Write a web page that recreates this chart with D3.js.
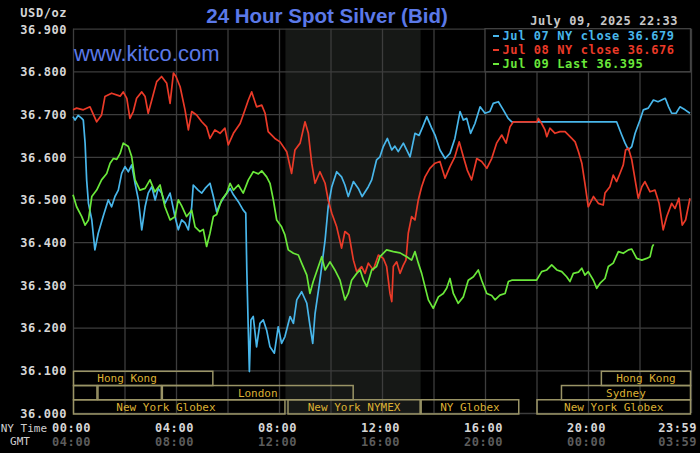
<!DOCTYPE html>
<html><head><meta charset="utf-8">
<script src="https://cdn.jsdelivr.net/npm/d3@7"></script>
<style>
html,body{margin:0;padding:0;background:#000;}
svg{display:block;}
.mono{font-family:"DejaVu Sans Mono",monospace;}
</style></head>
<body><div id="chart"></div>
<script>
// ---------- data ----------
const yTicks = [36.0,36.1,36.2,36.3,36.4,36.5,36.6,36.7,36.8,36.9];
const xGridHours = [0,2,4,6,8,10,12,14,16,18,20,22,24];
const nyTimeLabels = [[0,"00:00"],[4,"04:00"],[8,"08:00"],[12,"12:00"],[16,"16:00"],[20,"20:00"],[23.983,"23:59"]];
const gmtTimeLabels = [[0,"04:00"],[4,"08:00"],[8,"12:00"],[12,"16:00"],[16,"20:00"],[20,"00:00"],[23.983,"03:59"]];
const shadeHours = [8.25, 13.5];

// [hour, price]
const jul07 = [[0,36.694],[0.08,36.686],[0.2,36.697],[0.34,36.690],[0.40,36.686],[0.47,36.632],[0.53,36.546],[0.60,36.491],[0.73,36.452],[0.85,36.382],[0.98,36.421],[1.17,36.460],[1.37,36.499],[1.50,36.483],[1.63,36.507],[1.76,36.522],[1.89,36.561],[2.02,36.577],[2.15,36.565],[2.28,36.581],[2.41,36.538],[2.54,36.499],[2.67,36.429],[2.80,36.483],[2.92,36.515],[3.06,36.530],[3.19,36.499],[3.31,36.526],[3.44,36.515],[3.57,36.491],[3.77,36.515],[3.96,36.460],[4.09,36.429],[4.22,36.452],[4.35,36.445],[4.48,36.429],[4.61,36.483],[4.67,36.534],[4.86,36.522],[5.00,36.515],[5.13,36.526],[5.32,36.538],[5.45,36.507],[5.58,36.471],[5.71,36.490],[5.84,36.503],[6.10,36.526],[6.23,36.511],[6.42,36.495],[6.61,36.475],[6.71,36.468],[6.75,36.335],[6.81,36.187],[6.85,36.097],[6.91,36.218],[7.00,36.226],[7.13,36.155],[7.26,36.210],[7.39,36.218],[7.52,36.194],[7.65,36.155],[7.82,36.140],[7.97,36.202],[8.10,36.163],[8.23,36.179],[8.43,36.226],[8.56,36.210],[8.69,36.265],[8.88,36.284],[9.08,36.257],[9.20,36.206],[9.31,36.163],[9.40,36.233],[9.59,36.311],[9.79,36.405],[9.91,36.483],[10.05,36.530],[10.24,36.565],[10.43,36.553],[10.56,36.534],[10.69,36.507],[10.89,36.542],[11.08,36.526],[11.23,36.507],[11.47,36.530],[11.60,36.546],[11.79,36.593],[11.92,36.600],[12.05,36.624],[12.21,36.643],[12.38,36.616],[12.50,36.625],[12.63,36.612],[12.83,36.632],[13.09,36.600],[13.28,36.655],[13.44,36.650],[13.58,36.670],[13.74,36.694],[13.93,36.667],[14.06,36.651],[14.25,36.616],[14.45,36.596],[14.64,36.608],[14.83,36.643],[15.03,36.706],[15.16,36.686],[15.29,36.690],[15.44,36.655],[15.61,36.678],[15.81,36.717],[16.00,36.702],[16.19,36.706],[16.32,36.725],[16.52,36.729],[16.71,36.710],[16.90,36.690],[17.04,36.682],[21.11,36.682],[21.31,36.651],[21.44,36.632],[21.57,36.616],[21.70,36.624],[21.83,36.655],[22.02,36.686],[22.15,36.710],[22.34,36.714],[22.54,36.733],[22.72,36.729],[23.00,36.737],[23.13,36.717],[23.25,36.702],[23.42,36.702],[23.57,36.717],[23.77,36.710],[23.96,36.702]];

const jul08 = [[0,36.710],[0.14,36.714],[0.40,36.710],[0.66,36.717],[0.92,36.682],[1.11,36.698],[1.24,36.741],[1.50,36.749],[1.83,36.742],[1.95,36.752],[2.09,36.737],[2.21,36.690],[2.34,36.706],[2.47,36.737],[2.67,36.752],[2.80,36.741],[2.92,36.702],[3.06,36.733],[3.25,36.776],[3.44,36.788],[3.64,36.772],[3.77,36.725],[3.90,36.796],[4.00,36.788],[4.16,36.764],[4.35,36.710],[4.48,36.663],[4.61,36.706],[4.80,36.698],[5.00,36.682],[5.19,36.670],[5.32,36.643],[5.51,36.663],[5.71,36.655],[5.90,36.667],[6.03,36.628],[6.23,36.655],[6.49,36.678],[6.68,36.710],[6.81,36.733],[6.94,36.752],[7.13,36.717],[7.33,36.721],[7.46,36.702],[7.58,36.659],[7.84,36.643],[8.04,36.635],[8.30,36.612],[8.49,36.561],[8.62,36.616],[8.82,36.632],[9.01,36.682],[9.14,36.655],[9.27,36.585],[9.40,36.538],[9.59,36.565],[9.79,36.538],[9.91,36.499],[10.05,36.468],[10.24,36.436],[10.43,36.386],[10.56,36.425],[10.72,36.417],[10.89,36.358],[11.02,36.331],[11.21,36.343],[11.34,36.327],[11.47,36.351],[11.66,36.335],[11.86,36.370],[12.05,36.362],[12.18,36.343],[12.31,36.280],[12.38,36.261],[12.44,36.343],[12.57,36.354],[12.70,36.327],[12.82,36.345],[12.93,36.358],[13.02,36.421],[13.15,36.460],[13.28,36.452],[13.41,36.499],[13.54,36.530],[13.67,36.553],[13.86,36.573],[14.06,36.585],[14.25,36.589],[14.45,36.550],[14.64,36.577],[14.83,36.600],[15.00,36.635],[15.16,36.600],[15.31,36.569],[15.48,36.546],[15.68,36.596],[15.87,36.589],[16.07,36.573],[16.26,36.596],[16.45,36.632],[16.65,36.651],[16.82,36.632],[16.97,36.670],[17.10,36.682],[18.02,36.682],[18.07,36.690],[18.20,36.678],[18.33,36.663],[18.40,36.647],[18.52,36.667],[18.72,36.655],[18.91,36.659],[19.11,36.659],[19.37,36.643],[19.50,36.635],[19.63,36.612],[19.76,36.585],[19.88,36.538],[20.01,36.483],[20.21,36.507],[20.40,36.491],[20.59,36.487],[20.66,36.515],[20.85,36.530],[20.98,36.557],[21.11,36.542],[21.24,36.561],[21.37,36.581],[21.46,36.616],[21.57,36.620],[21.70,36.593],[21.83,36.546],[21.95,36.503],[22.09,36.530],[22.21,36.542],[22.41,36.518],[22.60,36.522],[22.76,36.491],[22.92,36.429],[23.06,36.460],[23.25,36.491],[23.38,36.479],[23.53,36.503],[23.66,36.440],[23.79,36.452],[23.96,36.503]];

const jul09 = [[0,36.511],[0.14,36.483],[0.34,36.460],[0.47,36.440],[0.60,36.452],[0.73,36.507],[0.92,36.522],[1.11,36.546],[1.31,36.561],[1.44,36.585],[1.57,36.596],[1.70,36.594],[1.83,36.608],[1.95,36.632],[2.15,36.624],[2.28,36.600],[2.41,36.546],[2.60,36.522],[2.80,36.526],[2.99,36.546],[3.18,36.518],[3.38,36.534],[3.57,36.483],[3.77,36.452],[3.96,36.460],[4.09,36.499],[4.22,36.485],[4.41,36.460],[4.61,36.475],[4.74,36.436],[4.93,36.425],[5.06,36.430],[5.19,36.390],[5.32,36.421],[5.45,36.460],[5.58,36.465],[5.77,36.499],[5.97,36.515],[6.10,36.538],[6.23,36.522],[6.42,36.534],[6.61,36.515],[6.81,36.546],[7.00,36.565],[7.20,36.560],[7.33,36.567],[7.52,36.553],[7.65,36.538],[7.78,36.499],[7.91,36.452],[8.10,36.436],[8.23,36.417],[8.36,36.382],[8.56,36.374],[8.75,36.370],[8.88,36.351],[9.08,36.323],[9.20,36.280],[9.33,36.308],[9.46,36.331],[9.66,36.366],[9.79,36.335],[9.98,36.354],[10.17,36.335],[10.37,36.311],[10.56,36.265],[10.69,36.280],[10.82,36.311],[11.02,36.327],[11.15,36.335],[11.28,36.311],[11.41,36.296],[11.60,36.335],[11.79,36.343],[11.92,36.366],[12.18,36.382],[12.44,36.378],[12.70,36.375],[12.96,36.366],[13.15,36.358],[13.28,36.378],[13.41,36.351],[13.54,36.327],[13.67,36.296],[13.80,36.265],[13.99,36.245],[14.19,36.272],[14.38,36.280],[14.51,36.292],[14.64,36.315],[14.77,36.280],[14.96,36.257],[15.16,36.272],[15.35,36.311],[15.55,36.319],[15.74,36.335],[15.87,36.311],[16.07,36.280],[16.26,36.275],[16.39,36.265],[16.58,36.276],[16.78,36.280],[16.91,36.308],[17.04,36.311],[18.00,36.311],[18.20,36.331],[18.40,36.335],[18.59,36.347],[18.79,36.335],[18.98,36.331],[19.17,36.319],[19.30,36.308],[19.43,36.327],[19.63,36.330],[19.76,36.339],[19.88,36.323],[20.01,36.331],[20.21,36.311],[20.34,36.292],[20.47,36.304],[20.66,36.315],[20.79,36.343],[20.98,36.351],[21.18,36.378],[21.37,36.374],[21.57,36.382],[21.70,36.384],[21.89,36.362],[22.09,36.358],[22.28,36.362],[22.41,36.366],[22.50,36.390],[22.55,36.395]];

const seriesNames = ["Jul 07 NY close 36.679","Jul 08 NY close 36.676","Jul 09 Last 36.395"];
const seriesColors = ["#48b6ea","#ea3a28","#6ae83a"];

// sessions: [row, start hour, end hour, label, label hour]
const sessions = [
  [0, 0, 5.45, "Hong Kong", 2.1],
  [0, 20.5, 24, "Hong Kong", null],
  [1, 0, 0.95, "", null],
  [1, 0.95, 3.45, "", null],
  [1, 3.45, 10.9, "London", null],
  [1, 18.95, 24, "Sydney", null],
  [2, 0, 8.25, "New York Globex", 3.61],
  [2, 8.33, 13.5, "New York NYMEX", null],
  [2, 13.5, 17.33, "NY Globex", null],
  [2, 18.0, 24, "New York Globex", null]
];

const titleText = "24 Hour Spot Silver (Bid)";
const siteText = "www.kitco.com";
const stampText = "July 09, 2025 22:33";
const unitText = "USD/oz";

// ---------- drawing ----------
const W = 700, H = 453;
const svg = d3.select("#chart").append("svg").attr("width", W).attr("height", H);
svg.append("rect").attr("width", W).attr("height", H).attr("fill", "#000");

const x = d3.scaleLinear().domain([0, 24]).range([73, 691]);
const y = d3.scaleLinear().domain([36.0, 36.9]).range([413, 28.7]);

// shaded NYMEX zone
svg.append("rect")
  .attr("x", x(shadeHours[0])).attr("y", y(36.9))
  .attr("width", x(shadeHours[1]) - x(shadeHours[0]))
  .attr("height", y(36.0) - y(36.9))
  .attr("fill", "#161816");

// grids
const gridColor = "#3d3d3d";
const yGrid = svg.append("g").attr("transform", `translate(${x(0)},0)`)
  .call(d3.axisLeft(y).tickValues(yTicks).tickSize(-(x(24) - x(0))).tickFormat(""));
yGrid.select(".domain").remove();
yGrid.selectAll("line").attr("stroke", gridColor).attr("stroke-width", 1.3);

const xGrid = svg.append("g").attr("transform", `translate(0,${y(36.9)})`)
  .call(d3.axisTop(x).tickValues(xGridHours).tickSize(-(y(36.0) - y(36.9))).tickFormat(""));
xGrid.select(".domain").remove();
xGrid.selectAll("line").attr("stroke", gridColor).attr("stroke-width", 1.3);

// y labels
const yLab = svg.append("g").attr("transform", "translate(67,0)")
  .call(d3.axisLeft(y).tickValues(yTicks).tickSize(0).tickPadding(0).tickFormat(d3.format(".3f")));
yLab.select(".domain").remove();
yLab.selectAll("text").attr("class", "mono").attr("fill", "#d6d6d6")
  .style("font-size", "12px").style("font-weight", "bold").style("letter-spacing", "0.55px")
  .attr("dy", "0.36em");

svg.append("text").attr("class", "mono").attr("x", 67).attr("y", 13).attr("dy", "0.36em")
  .attr("text-anchor", "end").attr("fill", "#d6d6d6")
  .style("font-size", "12px").style("font-weight", "bold").style("letter-spacing", "0.55px")
  .text(unitText);

// sessions
const rowTop = y(36.1) + 1, rowH = (y(36.0) - y(36.1)) / 3;
const sg = svg.append("g");
sessions.forEach(s => {
  const [row, a, b, label, lh] = s;
  const x0 = x(a), x1 = x(b);
  sg.append("rect").attr("x", x0 + 0.5).attr("y", rowTop + row * rowH)
    .attr("width", Math.max(0, x1 - x0 - 1)).attr("height", rowH)
    .attr("fill", "none").attr("stroke", "#9a9466").attr("stroke-width", 1.5);
  if (label) {
    const cx = lh == null ? (x0 + x1) / 2 : x(lh);
    sg.append("text").attr("class", "mono").attr("x", cx)
      .attr("y", rowTop + row * rowH + rowH / 2).attr("dy", "0.36em")
      .attr("text-anchor", "middle").attr("fill", "#dcb034")
      .style("font-size", "11px").text(label);
  }
});

// series lines
const line = d3.line().x(d => x(d[0])).y(d => y(d[1]));
[jul07, jul08, jul09].forEach((data, i) => {
  svg.append("path").datum(data).attr("d", line)
    .attr("fill", "none").attr("stroke", seriesColors[i])
    .attr("stroke-width", 1.7).attr("stroke-linejoin", "round");
});

// title & site
svg.append("text").attr("x", 327).attr("y", 23).attr("text-anchor", "middle")
  .attr("fill", "#5b79e8").style("font-family", "'Liberation Sans', Arial, sans-serif")
  .style("font-size", "20.5px").style("font-weight", "bold").text(titleText);
svg.append("text").attr("x", 74).attr("y", 61)
  .attr("fill", "#5b79e8").style("font-family", "'Liberation Sans', Arial, sans-serif")
  .style("font-size", "22px").text(siteText);

// timestamp
svg.append("text").attr("class", "mono").attr("x", 678).attr("y", 21).attr("dy", "0.36em")
  .attr("text-anchor", "end").attr("fill", "#c8c8c8")
  .style("font-size", "12px").style("font-weight", "bold").style("letter-spacing", "0.55px")
  .text(stampText);

// legend
const lg = svg.append("g");
lg.append("rect").attr("x", 485).attr("y", y(36.9)).attr("width", 205.5).attr("height", 43)
  .attr("fill", "#000").attr("stroke", "#444").attr("stroke-width", 1.3);
seriesNames.forEach((n, i) => {
  const yy = 36 + i * 14;
  lg.append("line").attr("x1", 493).attr("x2", 499).attr("y1", yy).attr("y2", yy)
    .attr("stroke", seriesColors[i]).attr("stroke-width", 2);
  lg.append("text").attr("class", "mono").attr("x", 502.5).attr("y", yy).attr("dy", "0.36em")
    .attr("fill", seriesColors[i])
    .style("font-size", "12px").style("font-weight", "bold").style("letter-spacing", "0.6px")
    .text(n);
});

// time axis labels
const tl = svg.append("g");
nyTimeLabels.forEach(([h, t], i) => {
  const last = i === nyTimeLabels.length - 1;
  tl.append("text").attr("class", "mono").attr("x", last ? 697 : x(h) - 1.5).attr("y", 428).attr("dy", "0.36em")
    .attr("text-anchor", last ? "end" : "middle").attr("fill", "#d6d6d6")
    .style("font-size", "12px").style("font-weight", "bold").style("letter-spacing", "0.55px").text(t);
});
gmtTimeLabels.forEach(([h, t], i) => {
  const last = i === gmtTimeLabels.length - 1;
  tl.append("text").attr("class", "mono").attr("x", last ? 697 : x(h) - 1.5).attr("y", 441.5).attr("dy", "0.36em")
    .attr("text-anchor", last ? "end" : "middle").attr("fill", "#5c5c5c")
    .style("font-size", "12px").style("font-weight", "bold").style("letter-spacing", "0.55px").text(t);
});
tl.append("text").attr("class", "mono").attr("x", 47).attr("y", 428).attr("dy", "0.36em")
  .attr("text-anchor", "end").attr("fill", "#cfcfcf").style("font-size", "11px").text("NY Time");
tl.append("text").attr("class", "mono").attr("x", 20).attr("y", 441.5).attr("dy", "0.36em")
  .attr("text-anchor", "middle").attr("fill", "#cfcfcf").style("font-size", "11px").text("GMT");
</script>
</body></html>
